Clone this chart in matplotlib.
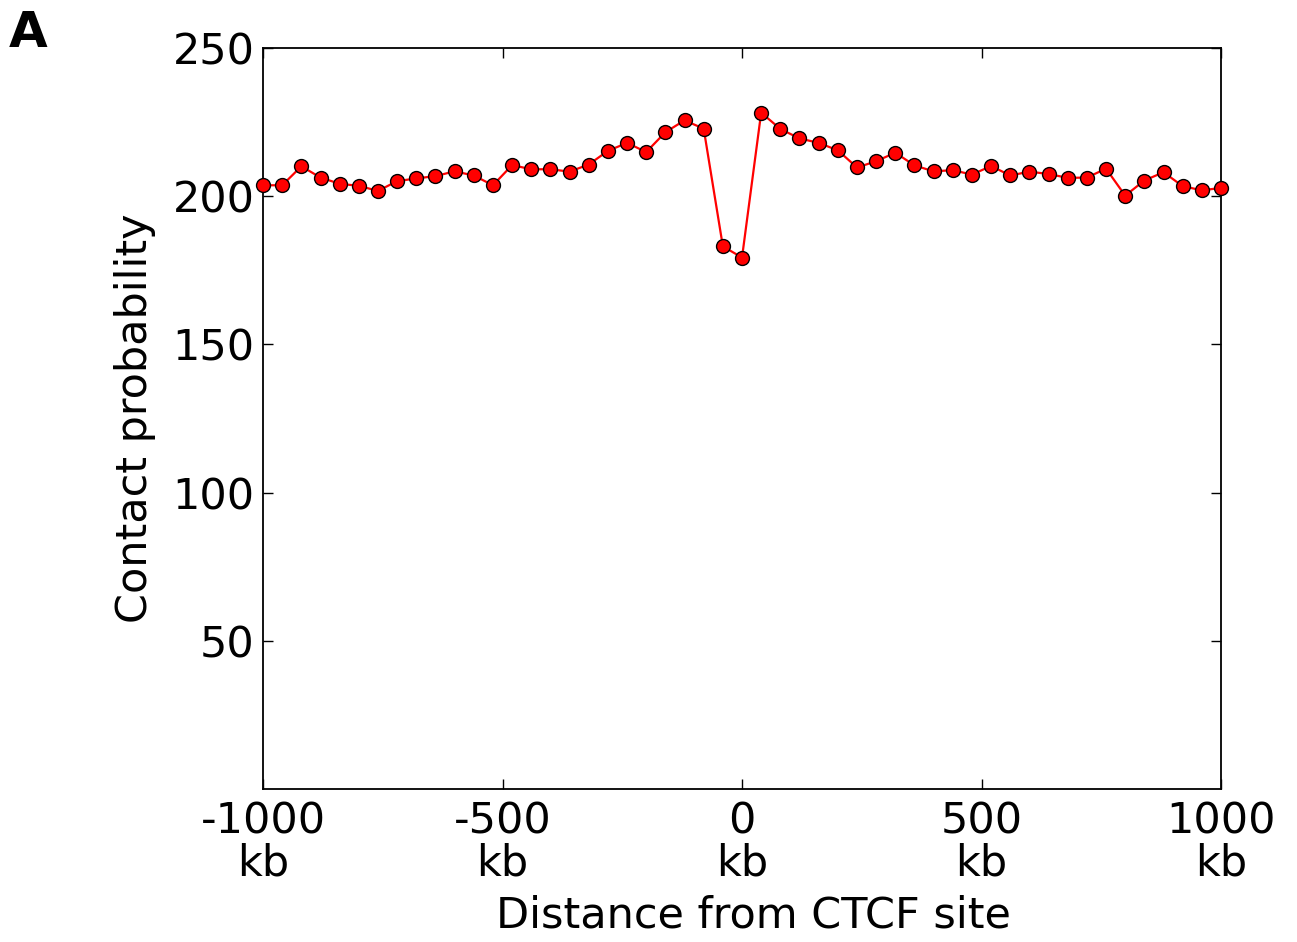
import matplotlib as mpl
mpl.use('Agg')
import matplotlib.pyplot as plt

# distance from CTCF site (kb), 40 kb bins
distance = list(range(-1000, 1001, 40))
contact = [
    203.7, 203.7, 210.1, 206.3, 204.2, 203.5, 201.8, 205.1, 206.0, 206.8,
    208.4, 207.0, 203.7, 210.5, 209.1, 209.1, 208.3, 210.7, 215.3, 218.0,
    214.9, 221.6, 225.6, 222.8, 183.1, 179.3, 228.2, 222.7, 219.5, 218.0,
    215.5, 209.7, 211.8, 214.7, 210.4, 208.4, 208.8, 207.3, 210.2, 207.0,
    208.3, 207.5, 206.2, 206.3, 209.3, 200.2, 205.3, 208.1, 203.4, 202.0,
    202.8,
]
xticks = [-1000, -500, 0, 500, 1000]
xticklabels = ['-1000\nkb', '-500\nkb', '0\nkb', '500\nkb', '1000\nkb']
yticks = [50, 100, 150, 200, 250]

plt.rcParams['axes.unicode_minus'] = False
plt.rcParams['font.family'] = 'DejaVu Sans'

fig = plt.figure(figsize=(12.97, 9.42), dpi=100)
ax = fig.add_axes([0.2028, 0.1624, 0.7386, 0.7866])

ax.plot(distance, contact, '-o', color='red', lw=1.6, markersize=10,
        markerfacecolor='red', markeredgecolor='black', markeredgewidth=1,
        clip_on=False, zorder=3)

ax.set_xlim(-1000, 1000)
ax.set_ylim(0, 250)
ax.set_xticks(xticks)
ax.set_xticklabels(xticklabels, linespacing=1.0)
ax.set_yticks(yticks)
ax.tick_params(direction='in', top=True, right=True, length=7, width=1,
               labelsize=31, pad=8)
ax.tick_params(axis='y', pad=6)
for s in ax.spines.values():
    s.set_linewidth(1.3)

ax.set_xlabel('Distance from CTCF site', fontsize=31)
ax.xaxis.set_label_coords(0.512, -0.143)
ax.xaxis.label.set_va('top')
ax.set_ylabel('Contact probability', fontsize=31, labelpad=12)

fig.text(0.007, 0.94, 'A', fontsize=36, fontweight='bold', va='bottom', ha='left')

fig.savefig('out.png', dpi=100)
